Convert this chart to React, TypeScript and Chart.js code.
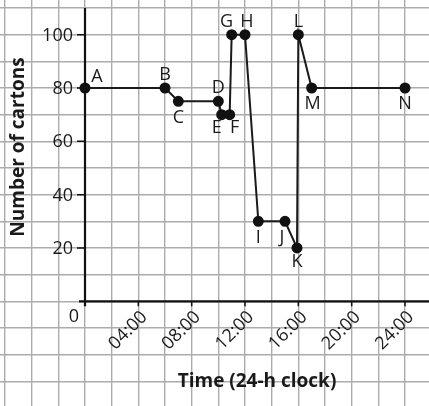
import React, { useEffect, useRef } from "react";
import { Chart, registerables } from "chart.js";

Chart.register(...registerables);

const pointNames = ["A", "B", "C", "D", "E", "F", "G", "H", "I", "J", "K", "L", "M", "N"];
const hours = [0, 6, 7, 10, 10.25, 10.85, 11, 12, 13, 15, 15.9, 16, 17, 24];
const cartons = [80, 80, 75, 75, 70, 70, 100, 100, 30, 30, 20, 100, 80, 80];
const xTickValues = [4, 8, 12, 16, 20, 24];
const xTickLabels = ["04:00", "08:00", "12:00", "16:00", "20:00", "24:00"];
const yTickValues = [20, 40, 60, 80, 100];
const xTitle = "Time (24-h clock)";
const yTitle = "Number of cartons";

// label placement offsets (px) relative to each point
const labelOffsets: [number, number][] = [
  [12, -11], [0, -13], [0, 17], [0, -13], [-5, 13], [5, 13], [-5, -13],
  [2, -13], [0, 17], [-3, 17], [0, 14], [0, -13], [1, 16], [0, 16],
];

const FONT = "'Open Sans', 'DejaVu Sans', sans-serif";
const GRID = "#acacac";

export default function App() {
  const ref = useRef<HTMLCanvasElement | null>(null);
  useEffect(() => {
    if (!ref.current) return;
    const axesPlugin = {
      id: "customAxes",
      beforeDatasetsDraw(chart: any) {
        const { ctx } = chart;
        const xs = chart.scales.x;
        const ys = chart.scales.y;
        const x0 = xs.getPixelForValue(0);
        const y0 = ys.getPixelForValue(0);
        ctx.save();
        ctx.strokeStyle = "#111";
        ctx.lineWidth = 2.2;
        ctx.beginPath();
        ctx.moveTo(x0, ys.getPixelForValue(110));
        ctx.lineTo(x0, y0 + 5);
        ctx.moveTo(x0 - 6, y0);
        ctx.lineTo(chart.width, y0);
        ctx.stroke();
        ctx.lineWidth = 1.5;
        ctx.beginPath();
        yTickValues.forEach((v) => {
          const y = ys.getPixelForValue(v);
          ctx.moveTo(x0 - 8, y);
          ctx.lineTo(x0, y);
        });
        xTickValues.forEach((v) => {
          const x = xs.getPixelForValue(v);
          ctx.moveTo(x, y0);
          ctx.lineTo(x, y0 + 5);
        });
        ctx.stroke();
        ctx.restore();
      },
      afterDatasetsDraw(chart: any) {
        const { ctx } = chart;
        const xs = chart.scales.x;
        const ys = chart.scales.y;
        const x0 = xs.getPixelForValue(0);
        const y0 = ys.getPixelForValue(0);
        ctx.save();
        ctx.fillStyle = "#1a1a1a";
        ctx.font = `18px ${FONT}`;
        ctx.textAlign = "right";
        ctx.textBaseline = "middle";
        yTickValues.forEach((v) => {
          ctx.fillText(String(v), x0 - 12, ys.getPixelForValue(v) + 1);
        });
        ctx.textAlign = "center";
        ctx.fillText("0", x0 - 11, y0 + 16);
        xTickValues.forEach((v, i) => {
          const x = xs.getPixelForValue(v);
          ctx.save();
          ctx.translate(x + 6, y0 + 13);
          ctx.rotate(-Math.PI / 4);
          ctx.textAlign = "right";
          ctx.textBaseline = "middle";
          ctx.fillText(xTickLabels[i], 0, 0);
          ctx.restore();
        });
        ctx.textAlign = "center";
        ctx.textBaseline = "middle";
        pointNames.forEach((n, i) => {
          const px = xs.getPixelForValue(hours[i]);
          const py = ys.getPixelForValue(cartons[i]);
          ctx.fillText(n, px + labelOffsets[i][0], py + labelOffsets[i][1]);
        });
        ctx.font = `bold 19px ${FONT}`;
        ctx.fillText(xTitle, 257, 382);
        ctx.save();
        ctx.translate(19, 147);
        ctx.rotate(-Math.PI / 2);
        ctx.fillText(yTitle, 0, 0);
        ctx.restore();
        ctx.restore();
      },
    };
    const chart = new Chart(ref.current, {
      type: "scatter",
      data: {
        datasets: [
          {
            data: hours.map((h, i) => ({ x: h, y: cartons[i] })),
            showLine: true,
            borderColor: "#1a1a1a",
            borderWidth: 2,
            backgroundColor: "#111",
            pointBackgroundColor: "#111",
            pointBorderColor: "#111",
            pointRadius: 4.5,
            clip: false as any,
          },
        ],
      },
      options: {
        animation: false,
        responsive: false,
        layout: { padding: 0, autoPadding: false },
        plugins: { legend: { display: false }, tooltip: { enabled: false } },
        scales: {
          x: {
            type: "linear",
            min: -6.375,
            max: 25.8,
            afterBuildTicks: (s: any) => {
              const t = [];
              for (let v = -6; v <= 24; v += 2) t.push({ value: v });
              s.ticks = t;
            },
            ticks: { display: false },
            grid: { color: GRID, lineWidth: 1.4, drawTicks: false },
            border: { display: false },
          },
          y: {
            type: "linear",
            min: -39.26,
            max: 113,
            afterBuildTicks: (s: any) => {
              const t = [];
              for (let v = -30; v <= 110; v += 10) t.push({ value: v });
              s.ticks = t;
            },
            ticks: { display: false },
            grid: { color: GRID, lineWidth: 1.4, drawTicks: false },
            border: { display: false },
          },
        },
      },
      plugins: [axesPlugin],
    });
    return () => chart.destroy();
  }, []);
  return (
    <div style={{ position: "absolute", left: 0, top: 0, width: 429, height: 406, background: "#fff" }}>
      <canvas ref={ref} width={429} height={406} />
    </div>
  );
}
